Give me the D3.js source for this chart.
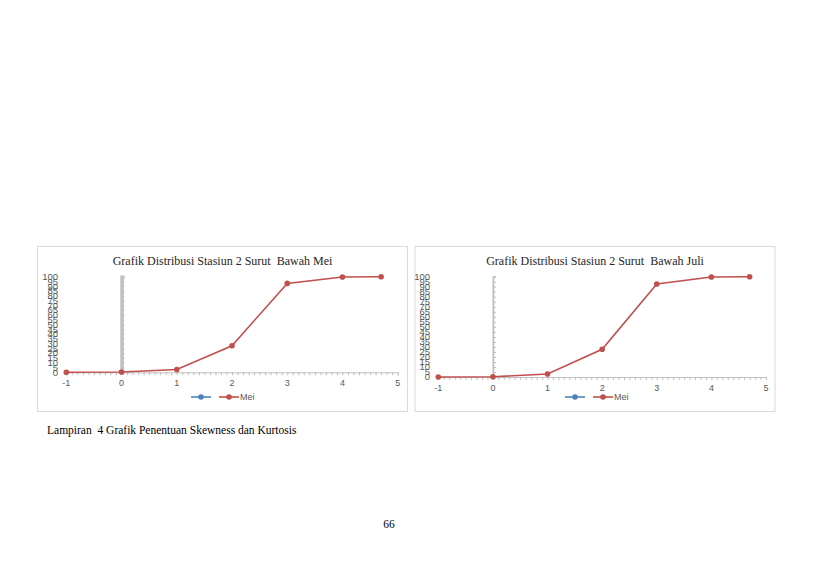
<!DOCTYPE html>
<html>
<head>
<meta charset="utf-8">
<script src="https://cdn.jsdelivr.net/npm/d3@7"></script>
<style>
  body { margin: 0; background: #fff; }
  svg { display: block; }
  text { white-space: pre; }
</style>
</head>
<body>
<script>
// data
var xValues = [-1, 0, 1, 2, 3, 4, 4.7];
var meiValues = [0, 0.3, 3, 27.8, 93, 99.7, 100];
var juliValues = [0, 0.2, 3, 27.6, 92.7, 99.7, 100];
var xTicks = [-1, 0, 1, 2, 3, 4, 5];
var yTicks = d3.range(0, 101, 5);
var titles = ["Grafik Distribusi Stasiun 2 Surut  Bawah Mei", "Grafik Distribusi Stasiun 2 Surut  Bawah Juli"];
var legendNames = ["", "Mei"];

var svg = d3.select("body").append("svg")
  .attr("width", 819)
  .attr("height", 579);

// chart layouts (frame + plot area)
var charts = [
  { title: titles[0], values: meiValues, box: [37.5, 246.5, 370, 165],
    xr: [66.3, 397.7], yr: [372.3, 276.7], axisW: 3.5, yLabelX: 58, legendX: 191 },
  { title: titles[1], values: juliValues, box: [415, 246.5, 360, 165],
    xr: [438.3, 766], yr: [377, 276.7], axisW: 1.8, yLabelX: 430, legendX: 565 }
];

charts.forEach(function(c) {
  var g = svg.append("g");

  g.append("rect")
    .attr("x", c.box[0]).attr("y", c.box[1])
    .attr("width", c.box[2]).attr("height", c.box[3])
    .attr("fill", "#fff")
    .attr("stroke", "#d9d9d9");

  g.append("text")
    .attr("x", c.box[0] + c.box[2] / 2)
    .attr("y", 265)
    .attr("text-anchor", "middle")
    .style("font-family", "Liberation Serif, Times New Roman, serif")
    .style("font-size", "12px")
    .style("fill", "#262626")
    .text(c.title);

  var x = d3.scaleLinear().domain([-1, 5]).range(c.xr);
  var y = d3.scaleLinear().domain([0, 100]).range(c.yr);

  // x axis line at y = 0 with minor ticks every 0.1
  var xAxis = d3.axisBottom(x)
    .tickValues(d3.range(-10, 51).map(function(d) { return d / 10; }))
    .tickSize(3)
    .tickFormat("");
  var xa = g.append("g")
    .attr("transform", "translate(0," + y(0) + ")")
    .call(xAxis);
  xa.select(".domain").attr("stroke", "#bfbfbf");
  xa.selectAll(".tick line").attr("stroke", "#bfbfbf");

  // x tick labels
  g.selectAll(".xlab")
    .data(xTicks)
    .enter().append("text")
    .attr("x", function(d) { return x(d); })
    .attr("y", y(0) + 14)
    .attr("text-anchor", "middle")
    .style("font-family", "Liberation Sans, Arial, sans-serif")
    .style("font-size", "9px")
    .style("fill", "#595959")
    .text(function(d) { return d; });

  // y axis crossing at x = 0
  var yAxis = d3.axisRight(y).tickValues(yTicks).tickSize(3).tickFormat("");
  var ya = g.append("g")
    .attr("transform", "translate(" + x(0) + ",0)")
    .call(yAxis);
  ya.select(".domain").attr("stroke", "#bfbfbf").attr("stroke-width", c.axisW);
  ya.selectAll(".tick line").attr("stroke", "#bfbfbf");

  // y labels packed at the left edge
  g.selectAll(".ylab")
    .data(yTicks)
    .enter().append("text")
    .attr("x", c.yLabelX)
    .attr("y", function(d) { return y(d) + 3.3; })
    .attr("text-anchor", "end")
    .style("font-family", "Liberation Sans, Arial, sans-serif")
    .style("font-size", "9.5px")
    .style("fill", "#595959")
    .text(function(d) { return d; });

  // series line + markers
  var pts = xValues.map(function(d, i) { return [d, c.values[i]]; });
  g.append("path")
    .datum(pts)
    .attr("fill", "none")
    .attr("stroke", "#c0504d")
    .attr("stroke-width", 1.6)
    .attr("d", d3.line()
      .x(function(d) { return x(d[0]); })
      .y(function(d) { return y(d[1]); }));

  g.selectAll(".pt")
    .data(pts)
    .enter().append("circle")
    .attr("cx", function(d) { return x(d[0]); })
    .attr("cy", function(d) { return y(d[1]); })
    .attr("r", 2.8)
    .attr("fill", "#c0504d");

  // legend
  var legendColors = ["#4f81bd", "#c0504d"];
  var lg = g.append("g").attr("transform", "translate(" + c.legendX + ",397)");
  legendColors.forEach(function(col, i) {
    var lx = i * 28;
    lg.append("line")
      .attr("x1", lx).attr("x2", lx + 20)
      .attr("stroke", col).attr("stroke-width", 1.6);
    lg.append("circle")
      .attr("cx", lx + 10).attr("r", 2.8).attr("fill", col);
    lg.append("text")
      .attr("x", lx + 21).attr("y", 3.2)
      .style("font-family", "Liberation Sans, Arial, sans-serif")
      .style("font-size", "9px")
      .style("fill", "#595959")
      .text(legendNames[i]);
  });
});

// page text
svg.append("text")
  .attr("x", 47).attr("y", 434)
  .style("font-family", "Liberation Serif, Times New Roman, serif")
  .style("font-size", "11.5px")
  .style("fill", "#000")
  .text("Lampiran  4 Grafik Penentuan Skewness dan Kurtosis");

svg.append("text")
  .attr("x", 389).attr("y", 528)
  .attr("text-anchor", "middle")
  .style("font-family", "Liberation Serif, Times New Roman, serif")
  .style("font-size", "11.5px")
  .style("fill", "#000")
  .text("66");
</script>
</body>
</html>
